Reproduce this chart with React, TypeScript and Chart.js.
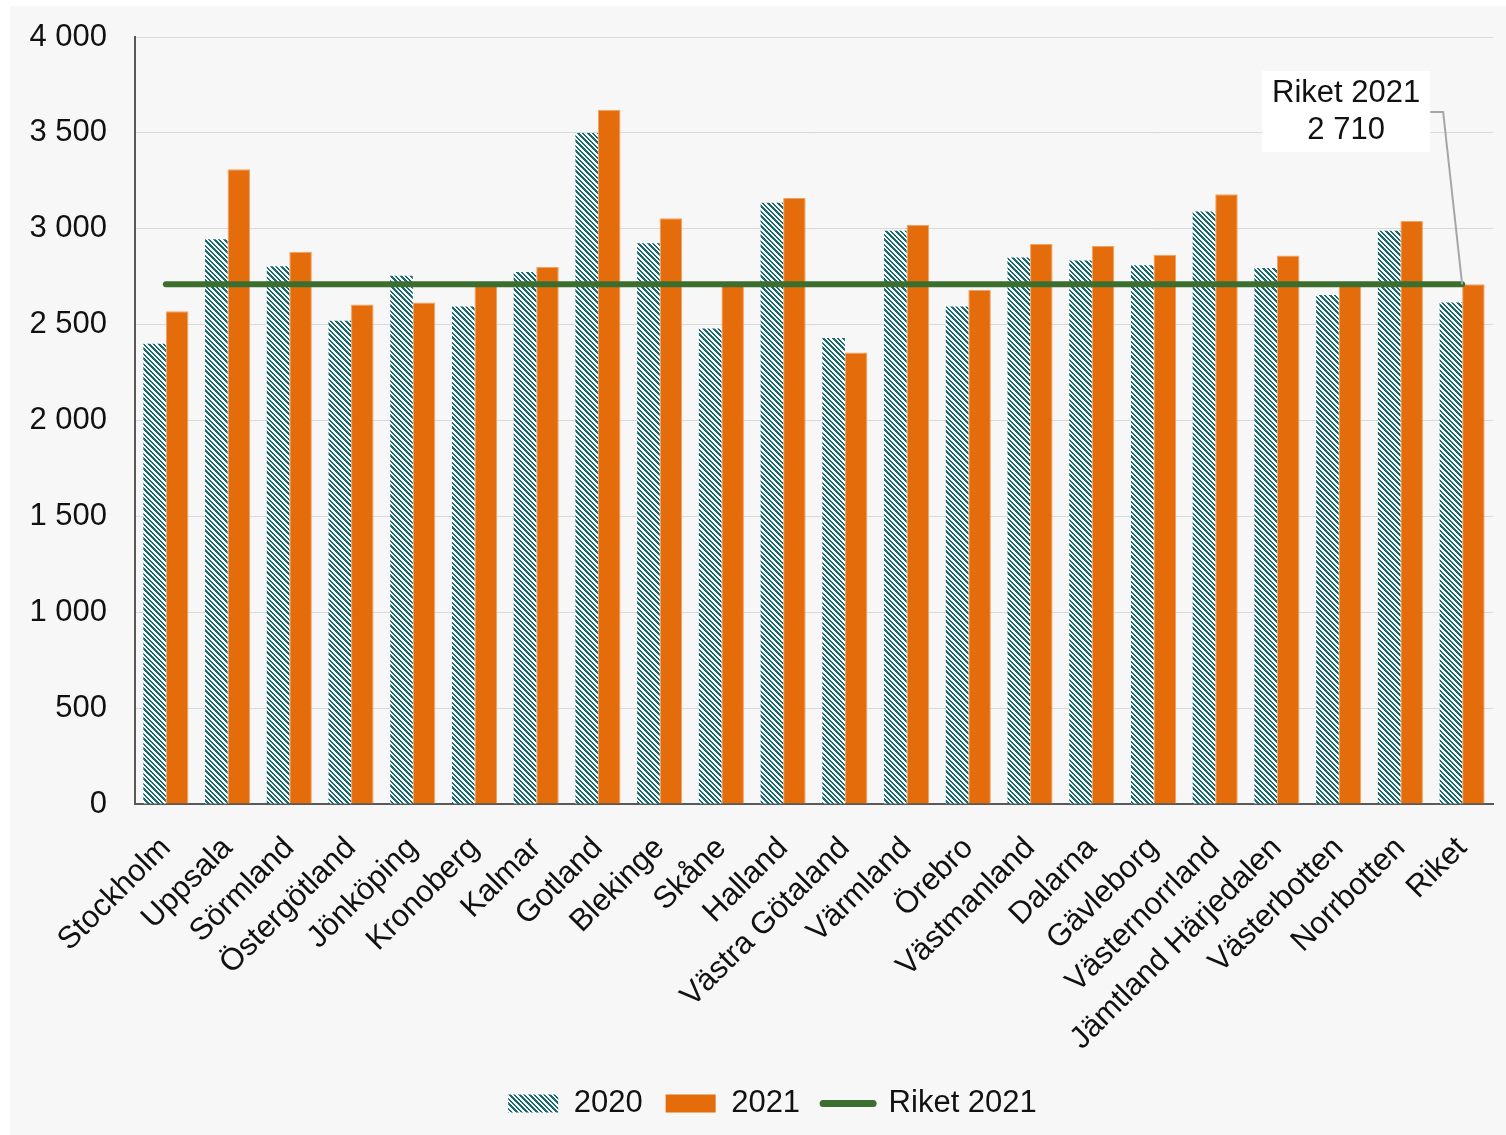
import React, { useEffect, useRef } from 'react';
import { Chart, registerables } from 'chart.js';

Chart.register(...registerables);

const categories = [
  'Stockholm', 'Uppsala', 'Sörmland', 'Östergötland', 'Jönköping', 'Kronoberg', 'Kalmar',
  'Gotland', 'Blekinge', 'Skåne', 'Halland', 'Västra Götaland', 'Värmland', 'Örebro',
  'Västmanland', 'Dalarna', 'Gävleborg', 'Västernorrland', 'Jämtland Härjedalen',
  'Västerbotten', 'Norrbotten', 'Riket',
];

const values2020 = [
  2400, 2945, 2805, 2520, 2755, 2595, 2775, 3500, 2925, 2480, 3135,
  2430, 2990, 2595, 2850, 2835, 2810, 3090, 2795, 2655, 2990, 2615,
];

const values2021 = [
  2570, 3310, 2880, 2605, 2615, 2710, 2800, 3620, 3055, 2710, 3160,
  2355, 3020, 2680, 2920, 2910, 2865, 3180, 2860, 2705, 3040, 2710,
];

const riket2021Line = [
  2710, 2710, 2710, 2710, 2710, 2710, 2710, 2710, 2710, 2710, 2710,
  2710, 2710, 2710, 2710, 2710, 2710, 2710, 2710, 2710, 2710, 2710,
];

const seriesLabels = ['2020', '2021', 'Riket 2021'];
const annotationTitle = 'Riket 2021';
const annotationValue = 2710;

const FONT_FAMILY = '"Liberation Sans", Arial, sans-serif';
const TEXT_COLOR = '#111111';
const TEAL = '#176b73';
const ORANGE = '#e46c0a';
const GREEN = '#3c6e2f';

function fmt(v: number): string {
  return String(v).replace(/\B(?=(\d{3})+(?!\d))/g, ' ');
}

function makeHatch(ctx: CanvasRenderingContext2D): CanvasPattern | string {
  const n = 10;
  const darkSteps = [0, 1, 2, 5, 6];
  const tile = document.createElement('canvas');
  tile.width = n;
  tile.height = n;
  const t = tile.getContext('2d');
  if (!t) return TEAL;
  t.fillStyle = '#ffffff';
  t.fillRect(0, 0, n, n);
  t.fillStyle = TEAL;
  for (let yy = 0; yy < n; yy++) {
    for (let xx = 0; xx < n; xx++) {
      const d = (((xx - yy) % n) + n) % n;
      if (darkSteps.indexOf(d) >= 0) t.fillRect(xx, yy, 1, 1);
    }
  }
  return ctx.createPattern(tile, 'repeat') || TEAL;
}

const legendShiftPlugin = {
  id: 'legendShift',
  afterLayout(chart: any) {
    const lg = chart.legend;
    if (lg) {
      lg.left += 21;
      lg.right += 21;
    }
  },
};

const annotationPlugin = {
  id: 'riketAnnotation',
  afterDatasetsDraw(chart: any) {
    const { ctx, chartArea, scales } = chart;
    const x = scales.x;
    const y = scales.y;
    const px = x.getPixelForValue(categories.length - 1);
    const py = y.getPixelForValue(annotationValue);
    const boxW = 168;
    const boxH = 81;
    const boxRight = px - 32;
    const boxLeft = boxRight - boxW;
    const boxTop = chartArea.top + 34;
    ctx.save();
    ctx.strokeStyle = '#a6a6a6';
    ctx.lineWidth = 2;
    ctx.beginPath();
    ctx.moveTo(boxRight, boxTop + 41);
    ctx.lineTo(boxRight + 13, boxTop + 41);
    ctx.lineTo(px, py);
    ctx.stroke();
    ctx.fillStyle = '#ffffff';
    ctx.fillRect(boxLeft, boxTop, boxW, boxH);
    ctx.fillStyle = TEXT_COLOR;
    ctx.font = `31px ${FONT_FAMILY}`;
    ctx.textAlign = 'center';
    ctx.textBaseline = 'middle';
    ctx.fillText(annotationTitle, boxLeft + boxW / 2, boxTop + 22);
    ctx.fillText(fmt(annotationValue), boxLeft + boxW / 2, boxTop + 59);
    ctx.restore();
  },
};

export default function App() {
  const canvasRef = useRef<HTMLCanvasElement | null>(null);

  useEffect(() => {
    const canvas = canvasRef.current;
    if (!canvas) return;
    const ctx = canvas.getContext('2d');
    if (!ctx) return;
    const hatch = makeHatch(ctx);

    const chart = new Chart(ctx, {
      type: 'bar',
      data: {
        labels: categories,
        datasets: [
          {
            type: 'bar',
            label: seriesLabels[0],
            data: values2020,
            backgroundColor: hatch as any,
            borderWidth: 0,
            categoryPercentage: 0.73,
            barPercentage: 1.0,
            order: 1,
          },
          {
            type: 'bar',
            label: seriesLabels[1],
            data: values2021,
            backgroundColor: ORANGE,
            borderColor: '#f1a267',
            borderWidth: 1,
            categoryPercentage: 0.73,
            barPercentage: 1.0,
            order: 1,
          },
          {
            type: 'line',
            label: seriesLabels[2],
            data: riket2021Line,
            borderColor: GREEN,
            backgroundColor: GREEN,
            borderWidth: 6,
            borderCapStyle: 'round',
            pointRadius: 0,
            fill: false,
            order: 0,
          } as any,
        ],
      },
      options: {
        animation: false,
        responsive: false,
        maintainAspectRatio: false,
        layout: { padding: { top: 31, left: 0, right: 13, bottom: 6 } },
        plugins: {
          tooltip: { enabled: false },
          legend: {
            position: 'bottom',
            labels: {
              usePointStyle: true,
              pointStyleWidth: 50,
              boxHeight: 18,
              padding: 23,
              color: TEXT_COLOR,
              font: { family: FONT_FAMILY, size: 31 },
              generateLabels: () => [
                {
                  text: seriesLabels[0],
                  fillStyle: hatch as any,
                  strokeStyle: 'rgba(0,0,0,0)',
                  lineWidth: 0,
                  pointStyle: 'rect',
                  datasetIndex: 0,
                  hidden: false,
                  fontColor: TEXT_COLOR,
                } as any,
                {
                  text: seriesLabels[1],
                  fillStyle: ORANGE,
                  strokeStyle: 'rgba(0,0,0,0)',
                  lineWidth: 0,
                  pointStyle: 'rect',
                  datasetIndex: 1,
                  hidden: false,
                  fontColor: TEXT_COLOR,
                } as any,
                {
                  text: seriesLabels[2],
                  fillStyle: GREEN,
                  strokeStyle: GREEN,
                  lineWidth: 7,
                  lineCap: 'round',
                  pointStyle: 'line',
                  datasetIndex: 2,
                  hidden: false,
                  fontColor: TEXT_COLOR,
                } as any,
              ],
            },
          },
        },
        scales: {
          x: {
            grid: { display: false, drawTicks: false },
            border: { display: true, color: '#595959', width: 2 },
            ticks: {
              autoSkip: false,
              minRotation: 45,
              maxRotation: 45,
              padding: 26,
              color: TEXT_COLOR,
              font: { family: FONT_FAMILY, size: 31 },
            },
            afterFit: (scale: any) => {
              scale.height = 261;
              scale.paddingLeft = 0;
              scale.paddingRight = 0;
            },
          },
          y: {
            min: 0,
            max: 4000,
            grid: { color: '#d9d9d9', lineWidth: 1, drawTicks: false },
            border: { display: true, color: '#595959', width: 2 },
            ticks: {
              stepSize: 500,
              padding: 28,
              color: TEXT_COLOR,
              font: { family: FONT_FAMILY, size: 31 },
              callback: (v: any) => fmt(Number(v)),
            },
            afterFit: (scale: any) => {
              scale.width = 125;
              scale.paddingTop = 0;
              scale.paddingBottom = 0;
            },
          },
        },
      },
      plugins: [annotationPlugin, legendShiftPlugin],
    });

    return () => {
      chart.destroy();
    };
  }, []);

  return (
    <div
      style={{
        position: 'absolute',
        left: 10,
        top: 6,
        width: 1496,
        height: 1129,
        background: '#f7f7f7',
      }}
    >
      <canvas ref={canvasRef} width={1496} height={1129} style={{ display: 'block', width: 1496, height: 1129 }} />
    </div>
  );
}
